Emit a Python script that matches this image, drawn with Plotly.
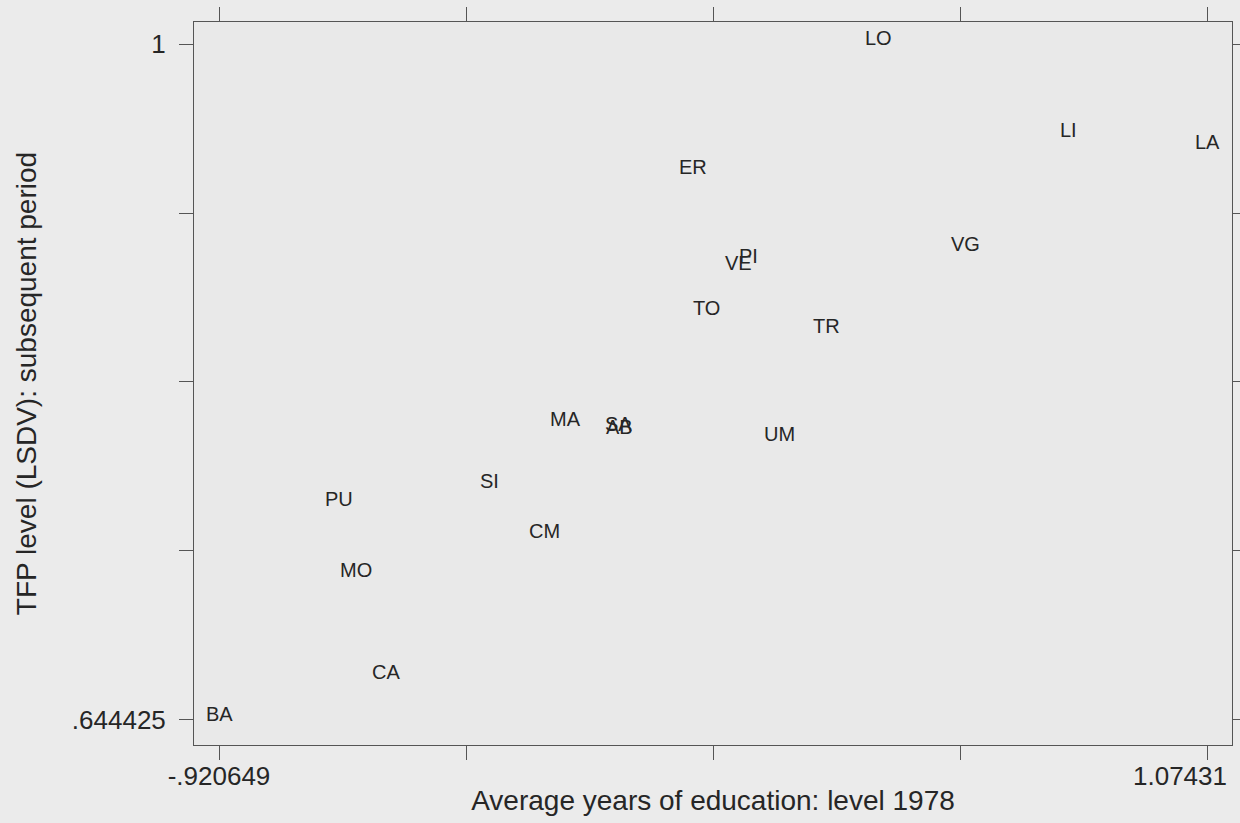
import plotly.graph_objects as go

# Region codes with average years of education (1978 level, standardised)
# and the subsequent-period TFP level (LSDV estimates)
regions = ["LO", "LI", "LA", "ER", "VG", "PI", "VE", "TO", "TR", "MA",
           "SA", "AB", "UM", "SI", "PU", "CM", "MO", "CA", "BA"]
education_1978 = [0.4100, 0.7937, 1.07431, 0.0365, 0.5857, 0.1475, 0.1293,
                  0.0627, 0.3070, -0.2220, -0.1130, -0.1110, 0.2101,
                  -0.3735, -0.6784, -0.2644, -0.6440, -0.5834, -0.920649]
tfp_level = [1.0, 0.9516, 0.9453, 0.9321, 0.8916, 0.8853, 0.8817, 0.8580,
             0.8485, 0.7996, 0.7970, 0.7954, 0.7917, 0.7670, 0.7575,
             0.7407, 0.7202, 0.6665, 0.644425]

x_tickvals = [-0.920649, -0.421909, 0.077831, 0.576570, 1.07431]
x_ticktext = ["-.920649", "", "", "", ""]
x_max_label = "1.07431"   # drawn right-aligned so it stays inside the figure
y_tickvals = [0.644425, 0.733319, 0.822213, 0.911106, 1.0]
y_ticktext = [".644425", "", "", "", "1"]

FONT = "Liberation Sans, Arial, Helvetica, sans-serif"
INK = "#262626"
FRAME = "#555555"

fig = go.Figure()

# invisible anchor trace so the axes span the data
fig.add_trace(go.Scatter(x=education_1978, y=tfp_level, mode="markers",
                         marker=dict(size=1, opacity=0), hoverinfo="skip",
                         showlegend=False))

# each region is drawn as its two-letter code centred on the point
for name, xv, yv in zip(regions, education_1978, tfp_level):
    fig.add_annotation(x=xv, y=yv, xref="x", yref="y", text=name,
                       showarrow=False, yshift=6,
                       font=dict(family=FONT, size=20, color=INK))

# upper end label of the x axis, pulled left of its tick
fig.add_annotation(x=x_tickvals[-1], y=0, xref="x", yref="paper",
                   text=x_max_label, showarrow=False,
                   xanchor="right", yanchor="top", xshift=22, yshift=-14,
                   font=dict(family=FONT, size=26, color=INK))

axis_common = dict(showline=True, linecolor=FRAME, linewidth=1,
                   mirror="ticks", ticks="outside", ticklen=14,
                   tickwidth=1, tickcolor=FRAME, showgrid=False,
                   zeroline=False,
                   tickfont=dict(family=FONT, size=26, color=INK))

fig.update_xaxes(range=[-0.97113, 1.12479], tickmode="array",
                 tickvals=x_tickvals, ticktext=x_ticktext,
                 title=dict(text="Average years of education: level 1978",
                            font=dict(family=FONT, size=28, color=INK),
                            standoff=0),
                 ticklabelstandoff=-6,
                 **axis_common)
fig.update_yaxes(range=[0.63127, 1.01157], tickmode="array",
                 tickvals=y_tickvals, ticktext=y_ticktext,
                 title=dict(text="TFP level (LSDV): subsequent period",
                            font=dict(family=FONT, size=28, color=INK),
                            standoff=27),
                 ticklabelstandoff=8,
                 **axis_common)

fig.update_layout(width=1240, height=823,
                  margin=dict(l=194, r=8, t=22, b=78, autoexpand=False),
                  paper_bgcolor="#ebebeb", plot_bgcolor="#e9e9e9",
                  showlegend=False)

fig.write_html("out.html")
